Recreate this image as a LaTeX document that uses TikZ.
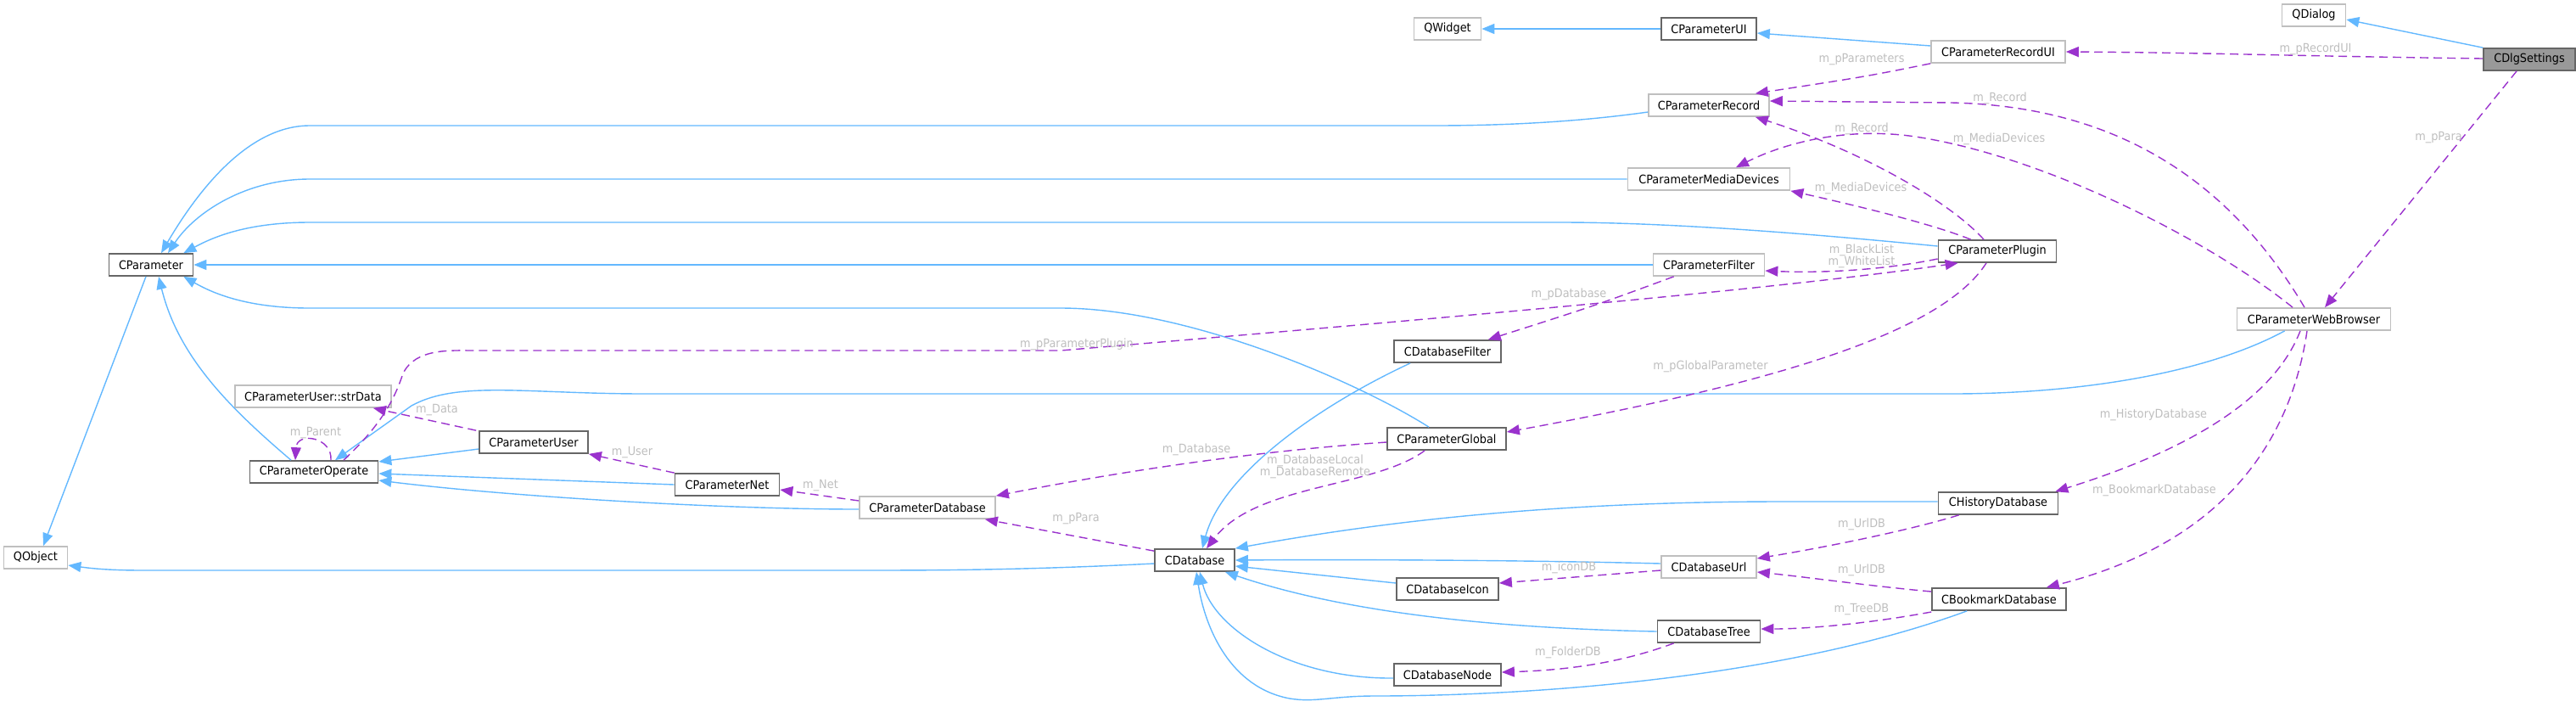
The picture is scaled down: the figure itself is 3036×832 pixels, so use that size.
\documentclass[tikz,border=0pt]{standalone}
\usepackage{fontspec}
\setmainfont{DejaVu Sans}[FakeStretch=0.92]
\usetikzlibrary{positioning,arrows.meta,calc}

\definecolor{inhblue}{HTML}{63B8FF}
\definecolor{usepurple}{HTML}{9A32CD}
\definecolor{docgray}{HTML}{666666}
\definecolor{extgray}{HTML}{BFBFBF}
\definecolor{lblgray}{HTML}{BEBEBE}
\definecolor{selfgray}{HTML}{999999}

\tikzset{
  cls/.style={draw=docgray,line width=0.85pt,fill=white,minimum height=13pt,inner sep=0pt,font=\fontsize{7}{7}\selectfont},
  extcls/.style={cls,draw=extgray},
  wd/.style={minimum width=#1*0.5pt},
  inh/.style={draw=inhblue,line width=0.7pt,-{Triangle[length=7.5pt,width=6pt]}},
  uses/.style={draw=usepurple,line width=0.7pt,dash pattern=on 5pt off 3pt,-{Triangle[length=7.5pt,width=6pt]}},
  lbl/.style={text=lblgray,inner sep=0pt,align=center,font=\fontsize{7}{7}\selectfont},
}

\begin{document}
\begin{tikzpicture}[x=0.5pt,y=-0.5pt]
    \useasboundingbox (0,0) rectangle (3036,832);

    % Classes
    \node[extcls,wd=75] (qobject) at (42,657) {QObject};
    \node[cls,wd=99] (cparam) at (178,312) {CParameter};
    \node[extcls,wd=184] (strdata) at (369,467) {CParameterUser::strData};
    \node[cls,wd=151] (operate) at (370,556) {CParameterOperate};
    \node[cls,wd=128] (user) at (629,521) {CParameterUser};
    \node[cls,wd=123] (net) at (857,571) {CParameterNet};
    \node[extcls,wd=160] (pdb) at (1093,598) {CParameterDatabase};
    \node[cls,wd=94] (cdb) at (1408,660) {CDatabase};
    \node[extcls,wd=79] (qwidget) at (1706,34) {QWidget};
    \node[cls,wd=112] (pui) at (2014,34) {CParameterUI};
    \node[extcls,wd=142] (record) at (2014,124) {CParameterRecord};
    \node[extcls,wd=191] (media) at (2014,211) {CParameterMediaDevices};
    \node[extcls,wd=131] (filter) at (2014,312) {CParameterFilter};
    \node[cls,wd=126] (dbfilter) at (1706,414) {CDatabaseFilter};
    \node[cls,wd=140] (pglobal) at (1705,517) {CParameterGlobal};
    \node[extcls,wd=112] (url) at (2014,668) {CDatabaseUrl};
    \node[cls,wd=120] (icon) at (1706,694) {CDatabaseIcon};
    \node[cls,wd=121] (tree) at (2014,744) {CDatabaseTree};
    \node[cls,wd=126] (dbnode) at (1706,795) {CDatabaseNode};
    \node[extcls,wd=75] (qdialog) at (2727,18) {QDialog};
    \node[extcls,wd=158] (recui) at (2355,61) {CParameterRecordUI};
    \node[cls,fill=selfgray,wd=108] (dlg) at (2981,70) {CDlgSettings};
    \node[cls,wd=139] (plugin) at (2354,296) {CParameterPlugin};
    \node[extcls,wd=181] (web) at (2727,376) {CParameterWebBrowser};
    \node[cls,wd=141] (history) at (2355,593) {CHistoryDatabase};
    \node[cls,wd=158] (bookmark) at (2356,706) {CBookmarkDatabase};

    % Inheritance
    \draw[inh] ($(record.west)+(0,8)$) .. controls (1850,145) and (1760,148) .. (1690,148) -- (365,148) .. controls (290,148) and (230,230) .. ($(cparam.north)+(12,0)$);
    \draw[inh] (media.west) -- (365,211) .. controls (290,211) and (230,250) .. ($(cparam.north)+(20,0)$);
    \draw[inh] ($(plugin.west)+(0,-6)$) .. controls (2100,272) and (1950,262) .. (1840,262) -- (365,262) .. controls (290,262) and (250,280) .. ($(cparam.north east)+(-12,0)$);
    \draw[inh] (filter.west) -- (cparam.east);
    \draw[inh] ($(pglobal.north)+(-21,0)$) .. controls (1600,450) and (1400,363) .. (1250,363) -- (365,363) .. controls (290,363) and (250,345) .. ($(cparam.south east)+(-12,0)$);
    \draw[inh] ($(operate.north)+(-27,0)$) .. controls (270,480) and (210,420) .. ($(cparam.south)+(9,0)$);
    \draw[inh] ($(cparam.south)+(-6,0)$) -- ($(qobject.north)+(9,0)$);
    \draw[inh] ($(user.west)+(0,8)$) -- ($(operate.east)+(0,-12)$);
    \draw[inh] (net.west) -- ($(operate.east)+(0,2)$);
    \draw[inh] ($(pdb.west)+(0,2)$) .. controls (850,600) and (600,585) .. ($(operate.east)+(0,10)$);
    \draw[inh] ($(web.south west)+(57,0)$) .. controls (2600,440) and (2450,464) .. (2300,464) -- (760,464) .. controls (620,464) and (540,448) .. (485,478) -- ($(operate.north)+(25,0)$);
    \draw[inh] ($(cdb.west)+(0,4)$) .. controls (1200,672) and (1100,672) .. (1000,672) -- (170,672) .. controls (130,672) and (110,670) .. ($(qobject.east)+(0,9)$);
    \draw[inh] ($(dbfilter.south west)+(20,0)$) .. controls (1550,480) and (1440,560) .. ($(cdb.north)+(9,0)$);
    \draw[inh] ($(history.west)+(0,-2)$) -- (2100,591) .. controls (1800,591) and (1600,620) .. (cdb.north east);
    \draw[inh] ($(url.west)+(0,-4)$) .. controls (1800,660) and (1600,659) .. (cdb.east);
    \draw[inh] ($(icon.west)+(0,-7)$) -- ($(cdb.east)+(0,7)$);
    \draw[inh] (tree.west) .. controls (1750,740) and (1580,720) .. ($(cdb.south east)+(-12,0)$);
    \draw[inh] ($(dbnode.west)+(0,4)$) .. controls (1520,800) and (1430,740) .. ($(cdb.south)+(6,0)$);
    \draw[inh] ($(bookmark.south west)+(42,0)$) .. controls (2100,800) and (1800,820) .. (1620,820) .. controls (1570,820) and (1550,828) .. (1520,823) .. controls (1450,810) and (1420,740) .. ($(cdb.south)+(2,0)$);
    \draw[inh] (pui.west) -- (qwidget.east);
    \draw[inh] ($(recui.west)+(0,-7)$) -- ($(pui.east)+(0,5)$);
    \draw[inh] (dlg.north west) -- ($(qdialog.east)+(0,5)$);

    % Members
    \draw[uses] ($(dlg.west)+(0,-1)$) .. controls (2700,66) and (2600,62) .. (recui.east);
    \draw[uses] ($(dlg.south)+(-15,0)$) -- ($(web.north)+(13,0)$);
    \draw[uses] (recui.south west) .. controls (2200,90) .. ($(record.north east)+(-17,0)$);
    \draw[uses] ($(web.north)+(-11,0)$) .. controls (2620,200) and (2480,125) .. (2300,121) -- ($(record.east)+(0,-5)$);
    \draw[uses] ($(plugin.north)+(-16,0)$) .. controls (2300,240) and (2200,180) .. ($(record.south east)+(-17,0)$);
    \draw[uses] ($(web.north)+(-25,0)$) .. controls (2600,280) and (2400,180) .. (2250,160) .. controls (2170,150) and (2100,170) .. ($(media.north)+(32,0)$);
    \draw[uses] ($(plugin.north west)+(39,0)$) .. controls (2280,265) and (2200,245) .. (media.south east);
    \draw[uses] ($(plugin.west)+(0,9)$) .. controls (2220,318) and (2150,322) .. ($(filter.east)+(0,7)$);
    \draw[uses] ($(operate.north)+(35,0)$) .. controls (450,500) and (465,470) .. (475,440) .. controls (490,410) and (530,413) .. (560,413) -- (1250,413) .. controls (1700,375) and (2100,340) .. ($(plugin.south west)+(24,0)$);
    \draw[uses] ($(plugin.south)+(-13,0)$) .. controls (2290,390) and (2100,450) .. ($(pglobal.east)+(0,-8)$);
    \draw[uses] ($(filter.south west)+(25,0)$) .. controls (1880,360) .. ($(dbfilter.north east)+(-16,0)$);
    \draw[uses] ($(pglobal.west)+(0,4)$) .. controls (1500,530) and (1350,550) .. (pdb.north east);
    \draw[uses] ($(pglobal.south west)+(45,0)$) .. controls (1620,575) and (1480,570) .. ($(cdb.north)+(14,0)$);
    \draw[uses] ($(cdb.north west)+(0,3)$) -- ($(pdb.south east)+(-13,0)$);
    \draw[uses] ($(pdb.west)+(0,-8)$) -- ($(net.east)+(0,6)$);
    \draw[uses] (net.north west) -- (user.south east);
    \draw[uses] ($(user.north west)+(-3,0)$) -- ($(strdata.south east)+(-22,0)$);
    \draw[uses] ($(operate.north)+(20,0)$) .. controls (392,515) and (350,508) .. ($(operate.north)+(-22,0)$);
    \draw[uses] ($(web.south)+(-16,0)$) .. controls (2680,470) and (2580,530) .. ($(history.north east)+(-4,0)$);
    \draw[uses] ($(web.south)+(-8,0)$) .. controls (2700,520) and (2620,640) .. ($(bookmark.north east)+(-24,0)$);
    \draw[uses] ($(history.south west)+(25,0)$) .. controls (2250,625) and (2150,645) .. ($(url.east)+(0,-10)$);
    \draw[uses] ($(bookmark.west)+(0,-9)$) .. controls (2200,690) and (2130,680) .. ($(url.east)+(0,6)$);
    \draw[uses] ($(bookmark.west)+(0,15)$) .. controls (2200,735) and (2130,741) .. ($(tree.east)+(0,-3)$);
    \draw[uses] ($(url.west)+(0,4)$) -- ($(icon.east)+(0,-7)$);
    \draw[uses] ($(tree.south west)+(20,0)$) .. controls (1900,785) and (1830,790) .. ($(dbnode.east)+(0,-3)$);

    % Member labels
    \node[lbl] (lrecui) at (2729,58) {m\_pRecordUI};
    \node[lbl] (lwebpara) at (2874,162) {m\_pPara};
    \node[lbl] (lparams) at (2194,70) {m\_pParameters};
    \node[lbl] (lwebrec) at (2357,116) {m\_Record};
    \node[lbl] (lplugrec) at (2194,152) {m\_Record};
    \node[lbl] (lwebmedia) at (2356,164) {m\_MediaDevices};
    \node[lbl] (lplugmedia) at (2193,222) {m\_MediaDevices};
    \node[lbl] (llists) at (2194,302) {m\_BlackList\\m\_WhiteList};
    \node[lbl] (lpdb) at (1849,347) {m\_pDatabase};
    \node[lbl] (lplugin) at (1269,406) {m\_pParameterPlugin};
    \node[lbl] (lglobal) at (2016,432) {m\_pGlobalParameter};
    \node[lbl] (ldatabase) at (1410,530) {m\_Database};
    \node[lbl] (llocal) at (1550,550) {m\_DatabaseLocal\\m\_DatabaseRemote};
    \node[lbl] (lcdbpara) at (1268,611) {m\_pPara};
    \node[lbl] (lnet) at (967,572) {m\_Net};
    \node[lbl] (luser) at (745,533) {m\_User};
    \node[lbl] (ldata) at (515,483) {m\_Data};
    \node[lbl] (lparent) at (372,510) {m\_Parent};
    \node[lbl] (lhistory) at (2538,489) {m\_HistoryDatabase};
    \node[lbl] (lbookmark) at (2539,578) {m\_BookmarkDatabase};
    \node[lbl] (lhisturl) at (2194,618) {m\_UrlDB};
    \node[lbl] (lbookurl) at (2194,672) {m\_UrlDB};
    \node[lbl] (ltree) at (2194,718) {m\_TreeDB};
    \node[lbl] (licon) at (1849,669) {m\_iconDB};
    \node[lbl] (lfolder) at (1848,769) {m\_FolderDB};
\end{tikzpicture}
\end{document}
